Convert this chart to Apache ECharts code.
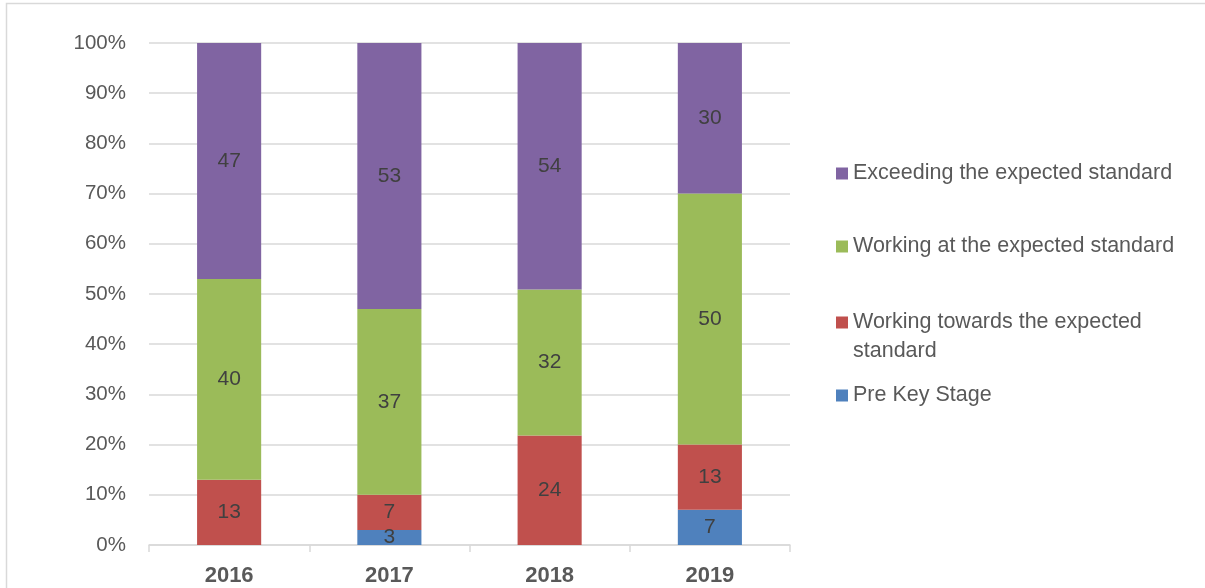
<!DOCTYPE html>
<html>
<head>
<meta charset="utf-8">
<script src="https://cdn.jsdelivr.net/npm/echarts@6/dist/echarts.min.js"></script>
<style>
  html, body { margin: 0; padding: 0; background: #fff; }
  #chart { width: 1205px; height: 588px; }
</style>
</head>
<body>
<div id="chart"></div>
<script>
const years = ['2016', '2017', '2018', '2019'];
const preKeyStage = [0, 3, 0, 7];
const workingTowards = [13, 7, 24, 13];
const workingAt = [40, 37, 32, 50];
const exceeding = [47, 53, 54, 30];
const yTicks = [0, 10, 20, 30, 40, 50, 60, 70, 80, 90, 100];

const seriesDefs = [
  { name: 'Pre Key Stage', data: preKeyStage, color: '#4F81BD' },
  { name: 'Working towards the expected standard', data: workingTowards, color: '#C0504D' },
  { name: 'Working at the expected standard', data: workingAt, color: '#9BBB59' },
  { name: 'Exceeding the expected standard', data: exceeding, color: '#8064A2' }
];

// totals per year, so every column is stacked to 100%
const totals = years.map((y, i) => seriesDefs.reduce((s, d) => s + d.data[i], 0));

const font = 'Liberation Sans';
const textColor = '#595959';

const chart = echarts.init(document.getElementById('chart'));

function legendAt(name, top, text) {
  return {
    data: [name],
    orient: 'vertical',
    left: 831,
    top: top,
    icon: 'rect',
    itemWidth: 12,
    itemHeight: 12,
    selectedMode: false,
    formatter: function () { return text; },
    textStyle: { color: textColor, fontFamily: font, fontSize: 21.5, lineHeight: 29 }
  };
}

const option = {
  animation: false,
  backgroundColor: '#fff',
  graphic: [{
    type: 'rect',
    shape: { x: 6.5, y: 3.5, width: 1300, height: 700 },
    style: { fill: 'none', stroke: '#D9D9D9', lineWidth: 1.5 },
    silent: true
  }],
  legend: [
    legendAt('Exceeding the expected standard', 171 - 17, 'Exceeding the expected standard'),
    legendAt('Working at the expected standard', 244 - 17, 'Working at the expected standard'),
    legendAt('Working towards the expected standard', 320 - 46, '\nWorking towards the expected\nstandard'),
    legendAt('Pre Key Stage', 393 - 17, 'Pre Key Stage')
  ],
  grid: { left: 149, right: 415, top: 43, bottom: 43 },
  xAxis: {
    type: 'category',
    data: years,
    axisLine: { lineStyle: { color: '#D9D9D9', width: 1.5 } },
    axisTick: { show: true, length: 7, lineStyle: { color: '#D9D9D9', width: 1.5 } },
    axisLabel: { color: textColor, fontFamily: font, fontSize: 22, fontWeight: 'bold', margin: 20 }
  },
  yAxis: {
    type: 'value',
    min: yTicks[0],
    max: yTicks[yTicks.length - 1],
    interval: 10,
    axisLine: { show: false },
    axisTick: { show: false },
    axisLabel: { color: textColor, fontFamily: font, fontSize: 20.5, margin: 23, formatter: '{value}%' },
    splitLine: { lineStyle: { color: '#D9D9D9', width: 1.5 } }
  },
  series: seriesDefs.map(d => ({
    name: d.name,
    type: 'bar',
    stack: 'total',
    barWidth: '40%',
    itemStyle: { color: d.color },
    data: d.data.map((v, i) => ({ value: v / totals[i] * 100, raw: v })),
    label: {
      show: true,
      position: 'inside',
      color: '#404040',
      fontFamily: font,
      fontSize: 21,
      formatter: p => (p.data.raw ? String(p.data.raw) : '')
    }
  }))
};

chart.setOption(option);
</script>
</body>
</html>
